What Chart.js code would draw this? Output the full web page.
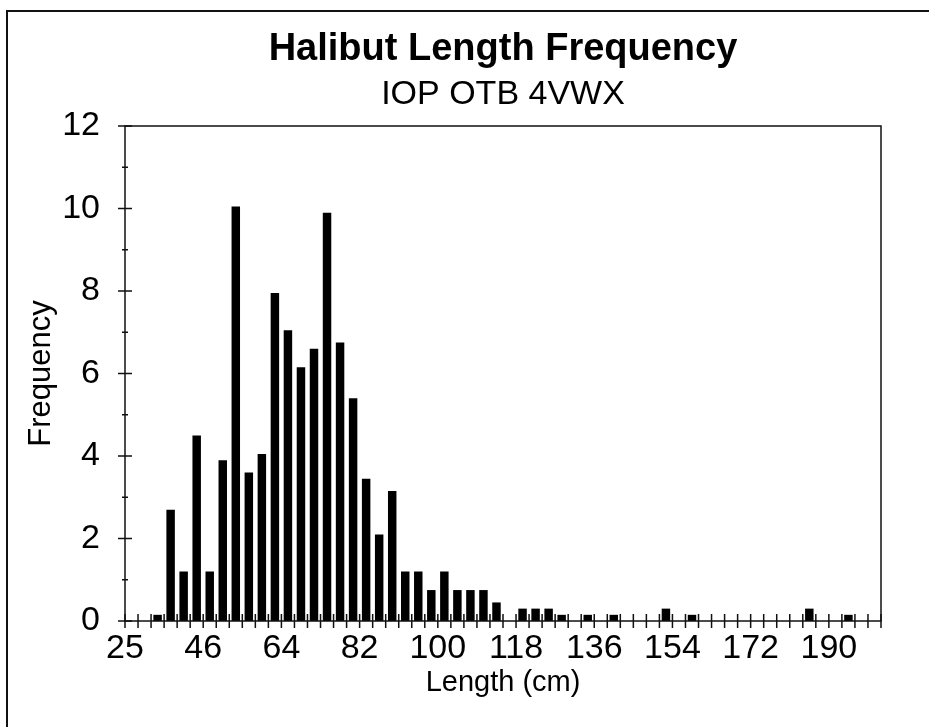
<!DOCTYPE html>
<html>
<head>
<meta charset="utf-8">
<script src="https://cdn.jsdelivr.net/npm/chart.js@4.4.1/dist/chart.umd.min.js"></script>
<style>
  body { margin:0; background:#fff; }
  #wrap { width:929px; height:727px; }
</style>
</head>
<body>
<div id="wrap"><canvas id="lengthChart" width="929" height="727"></canvas></div>
<script>
// frequency per 3 cm length bin (58 bins along the axis)
const freq = [
  0, 0, 0.15, 2.7, 1.2, 4.5, 1.2, 3.9, 10.05, 3.6,
  4.05, 7.95, 7.05, 6.15, 6.6, 9.9, 6.75, 5.4, 3.45, 2.1,
  3.15, 1.2, 1.2, 0.75, 1.2, 0.75, 0.75, 0.75, 0.45, 0,
  0.3, 0.3, 0.3, 0.15, 0, 0.15, 0, 0.15, 0, 0,
  0, 0.3, 0, 0.15, 0, 0, 0, 0, 0, 0,
  0, 0, 0.3, 0, 0, 0.15, 0, 0
];
// labels shown every 6th tick along the length axis
const lengthTicks = ['25','46','64','82','100','118','136','154','172','190'];
const labelEvery = 6;
const yMax = 12;

const font = "'Liberation Sans', Arial, Helvetica, sans-serif";

// bars sit between tick marks
const points = freq.map((v,i)=>({x:i+0.5, y:v}));

// frame, plot box and the crossing tick marks
const axisPlugin = {
  id:'axisMarks',
  afterDraw(chart){
    const {ctx, chartArea:a, scales:{x, y}} = chart;
    ctx.save();
    ctx.strokeStyle = '#111';
    // outer frame (left + top only)
    ctx.lineWidth = 2;
    ctx.beginPath();
    ctx.moveTo(7, chart.height);
    ctx.lineTo(7, 11);
    ctx.lineTo(chart.width, 11);
    ctx.stroke();
    // plot box
    ctx.lineWidth = 1.5;
    ctx.strokeRect(a.left, a.top, a.right-a.left, a.bottom-a.top);
    // x ticks
    ctx.beginPath();
    x.ticks.forEach(t=>{
      const px = x.getPixelForValue(t.value);
      ctx.moveTo(px, a.bottom-7);
      ctx.lineTo(px, a.bottom+7);
    });
    // y ticks, long at labelled values
    y.ticks.forEach(t=>{
      const py = y.getPixelForValue(t.value);
      const len = t.value % 2 === 0 ? 7 : 3;
      ctx.moveTo(a.left-len, py);
      ctx.lineTo(a.left+len, py);
    });
    ctx.stroke();
    ctx.restore();
  }
};

new Chart(document.getElementById('lengthChart'), {
  type:'bar',
  data:{
    datasets:[{
      label:'Frequency',
      data:points,
      backgroundColor:'#000',
      borderWidth:0,
      categoryPercentage:1,
      barPercentage:0.65
    }]
  },
  options:{
    responsive:false,
    animation:false,
    layout:{padding:{left:0, top:0, bottom:0, right:48}},
    plugins:{
      legend:{display:false},
      tooltip:{enabled:false},
      title:{
        display:true,
        text:'Halibut Length Frequency',
        fullSize:false,
        color:'#000',
        font:{family:font, size:38, weight:'bold', lineHeight:1},
        padding:{top:31, bottom:9}
      },
      subtitle:{
        display:true,
        text:'IOP OTB 4VWX',
        fullSize:false,
        color:'#000',
        font:{family:font, size:34, lineHeight:1},
        padding:{top:0, bottom:14}
      }
    },
    scales:{
      x:{
        type:'linear',
        min:0,
        max:freq.length,
        offset:false,
        grid:{display:false, drawTicks:false},
        border:{display:false},
        ticks:{
          stepSize:1,
          autoSkip:false,
          maxRotation:0,
          minRotation:0,
          padding:11,
          color:'#000',
          font:{family:font, size:34, lineHeight:1},
          callback:(v)=> v % labelEvery === 0 ? (lengthTicks[v/labelEvery] || '') : ''
        },
        title:{
          display:true,
          text:'Length (cm)',
          color:'#000',
          font:{family:font, size:29, lineHeight:1},
          padding:{top:0, bottom:29.5}
        },
        afterFit(scale){ scale.height = 106; }
      },
      y:{
        min:0,
        max:yMax,
        grid:{display:false, drawTicks:false},
        border:{display:false},
        ticks:{
          stepSize:1,
          padding:25,
          color:'#000',
          font:{family:font, size:34, lineHeight:1},
          callback:(v)=> v % 2 === 0 ? v : ''
        },
        title:{
          display:true,
          text:'Frequency',
          color:'#000',
          font:{family:font, size:31, lineHeight:1},
          padding:{top:26, bottom:0}
        },
        afterFit(scale){ scale.width = 125; }
      }
    }
  },
  plugins:[axisPlugin]
});
</script>
</body>
</html>
